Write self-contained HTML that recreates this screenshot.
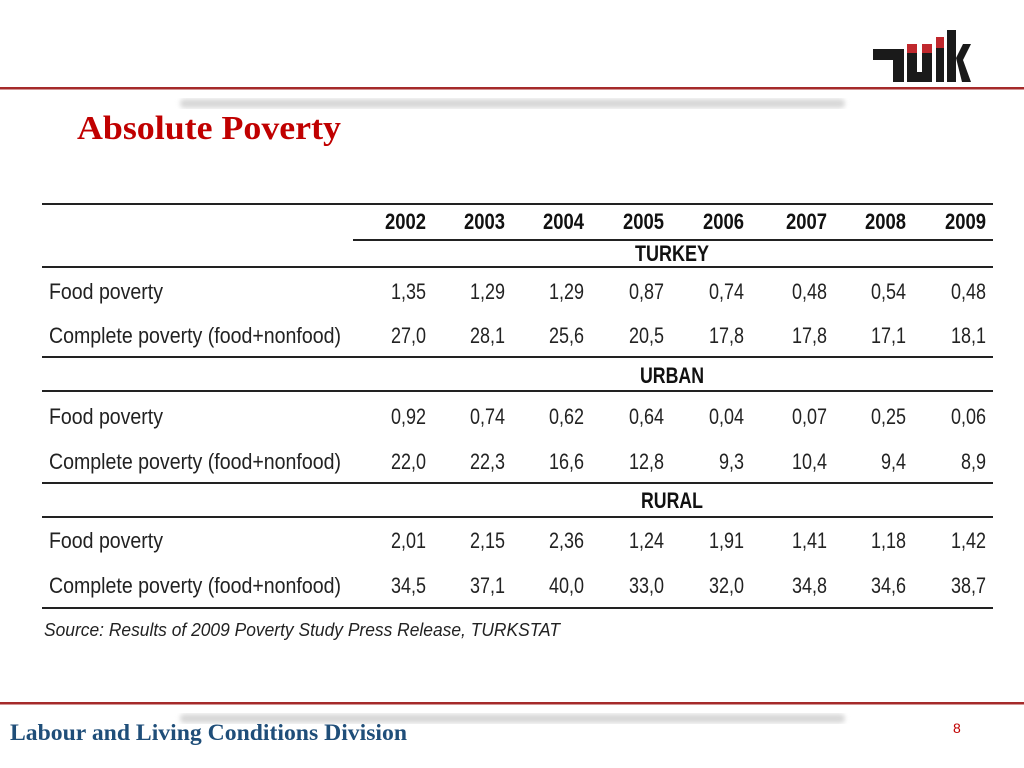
<!DOCTYPE html>
<html><head><meta charset="utf-8"><style>
html,body{margin:0;padding:0;background:#fff;width:1024px;height:768px;overflow:hidden}
svg{display:block}
.n{font-family:"Liberation Sans",sans-serif;font-size:22px;fill:#222}
.h{font-family:"Liberation Sans",sans-serif;font-size:22px;font-weight:bold;fill:#111}
</style></head><body>
<svg width="1024" height="768" viewBox="0 0 1024 768" xmlns="http://www.w3.org/2000/svg">
<defs><filter id="bl"><feGaussianBlur stdDeviation="2.5"/></filter></defs>
<rect x="0" y="87" width="1024" height="2.5" fill="#a52a2a"/>
<rect x="180" y="99" width="665" height="9" rx="4" fill="#d8d8d8" filter="url(#bl)"/>
<rect x="0" y="702" width="1024" height="2.5" fill="#a52a2a"/>
<rect x="180" y="714" width="665" height="9" rx="4" fill="#d8d8d8" filter="url(#bl)"/>
<g fill="#1a1a1a">
<rect x="873" y="49" width="30" height="11"/><rect x="893" y="49" width="11" height="33"/>
<rect x="907" y="44" width="10" height="38"/><rect x="922" y="44" width="10" height="38"/><rect x="907" y="72" width="25" height="10"/>
<rect x="936" y="37" width="8" height="45"/>
<rect x="947" y="30" width="9" height="52"/>
<polygon points="956,58 963,44 971,44 963,60 971,82 962,82"/>
</g>
<g fill="#c0282d"><rect x="907" y="44" width="10" height="9"/><rect x="922" y="44" width="10" height="9"/><rect x="936" y="37" width="8" height="11"/></g>
<text x="77" y="139" textLength="264" lengthAdjust="spacingAndGlyphs" style="font-family:'Liberation Serif',serif;font-weight:bold;font-size:34px;fill:#c00000">Absolute Poverty</text>
<text x="10" y="740" textLength="397" lengthAdjust="spacingAndGlyphs" style="font-family:'Liberation Serif',serif;font-weight:bold;font-size:23px;fill:#1f4e79">Labour and Living Conditions Division</text>
<text x="953" y="733" style="font-family:'Liberation Sans',sans-serif;font-size:14px;fill:#c00000">8</text>
<g fill="#222">
<rect x="42" y="203" width="951" height="2"/>
<rect x="353" y="239" width="640" height="2"/>
<rect x="42" y="266" width="951" height="2"/>
<rect x="42" y="356" width="951" height="2"/>
<rect x="42" y="390" width="951" height="2"/>
<rect x="42" y="482" width="951" height="2"/>
<rect x="42" y="516" width="951" height="2"/>
<rect x="42" y="607" width="951" height="2"/>
</g>
<g class="h" text-anchor="end">
<text x="426" y="229" textLength="41" lengthAdjust="spacingAndGlyphs">2002</text>
<text x="505" y="229" textLength="41" lengthAdjust="spacingAndGlyphs">2003</text>
<text x="584" y="229" textLength="41" lengthAdjust="spacingAndGlyphs">2004</text>
<text x="664" y="229" textLength="41" lengthAdjust="spacingAndGlyphs">2005</text>
<text x="744" y="229" textLength="41" lengthAdjust="spacingAndGlyphs">2006</text>
<text x="827" y="229" textLength="41" lengthAdjust="spacingAndGlyphs">2007</text>
<text x="906" y="229" textLength="41" lengthAdjust="spacingAndGlyphs">2008</text>
<text x="986" y="229" textLength="41" lengthAdjust="spacingAndGlyphs">2009</text>
</g>
<g class="h" text-anchor="middle">
<text x="672" y="261" textLength="74" lengthAdjust="spacingAndGlyphs">TURKEY</text>
<text x="672" y="383" textLength="64" lengthAdjust="spacingAndGlyphs">URBAN</text>
<text x="672" y="508" textLength="62" lengthAdjust="spacingAndGlyphs">RURAL</text>
</g>
<g class="n">
<text x="49" y="299" textLength="114" lengthAdjust="spacingAndGlyphs">Food poverty</text>
<text x="49" y="343" textLength="292" lengthAdjust="spacingAndGlyphs">Complete poverty (food+nonfood)</text>
<text x="49" y="424" textLength="114" lengthAdjust="spacingAndGlyphs">Food poverty</text>
<text x="49" y="469" textLength="292" lengthAdjust="spacingAndGlyphs">Complete poverty (food+nonfood)</text>
<text x="49" y="548" textLength="114" lengthAdjust="spacingAndGlyphs">Food poverty</text>
<text x="49" y="593" textLength="292" lengthAdjust="spacingAndGlyphs">Complete poverty (food+nonfood)</text>
</g>
<g class="n" text-anchor="end">
<text x="426" y="299" textLength="35" lengthAdjust="spacingAndGlyphs">1,35</text>
<text x="505" y="299" textLength="35" lengthAdjust="spacingAndGlyphs">1,29</text>
<text x="584" y="299" textLength="35" lengthAdjust="spacingAndGlyphs">1,29</text>
<text x="664" y="299" textLength="35" lengthAdjust="spacingAndGlyphs">0,87</text>
<text x="744" y="299" textLength="35" lengthAdjust="spacingAndGlyphs">0,74</text>
<text x="827" y="299" textLength="35" lengthAdjust="spacingAndGlyphs">0,48</text>
<text x="906" y="299" textLength="35" lengthAdjust="spacingAndGlyphs">0,54</text>
<text x="986" y="299" textLength="35" lengthAdjust="spacingAndGlyphs">0,48</text>
<text x="426" y="343" textLength="35" lengthAdjust="spacingAndGlyphs">27,0</text>
<text x="505" y="343" textLength="35" lengthAdjust="spacingAndGlyphs">28,1</text>
<text x="584" y="343" textLength="35" lengthAdjust="spacingAndGlyphs">25,6</text>
<text x="664" y="343" textLength="35" lengthAdjust="spacingAndGlyphs">20,5</text>
<text x="744" y="343" textLength="35" lengthAdjust="spacingAndGlyphs">17,8</text>
<text x="827" y="343" textLength="35" lengthAdjust="spacingAndGlyphs">17,8</text>
<text x="906" y="343" textLength="35" lengthAdjust="spacingAndGlyphs">17,1</text>
<text x="986" y="343" textLength="35" lengthAdjust="spacingAndGlyphs">18,1</text>
<text x="426" y="424" textLength="35" lengthAdjust="spacingAndGlyphs">0,92</text>
<text x="505" y="424" textLength="35" lengthAdjust="spacingAndGlyphs">0,74</text>
<text x="584" y="424" textLength="35" lengthAdjust="spacingAndGlyphs">0,62</text>
<text x="664" y="424" textLength="35" lengthAdjust="spacingAndGlyphs">0,64</text>
<text x="744" y="424" textLength="35" lengthAdjust="spacingAndGlyphs">0,04</text>
<text x="827" y="424" textLength="35" lengthAdjust="spacingAndGlyphs">0,07</text>
<text x="906" y="424" textLength="35" lengthAdjust="spacingAndGlyphs">0,25</text>
<text x="986" y="424" textLength="35" lengthAdjust="spacingAndGlyphs">0,06</text>
<text x="426" y="469" textLength="35" lengthAdjust="spacingAndGlyphs">22,0</text>
<text x="505" y="469" textLength="35" lengthAdjust="spacingAndGlyphs">22,3</text>
<text x="584" y="469" textLength="35" lengthAdjust="spacingAndGlyphs">16,6</text>
<text x="664" y="469" textLength="35" lengthAdjust="spacingAndGlyphs">12,8</text>
<text x="744" y="469" textLength="25" lengthAdjust="spacingAndGlyphs">9,3</text>
<text x="827" y="469" textLength="35" lengthAdjust="spacingAndGlyphs">10,4</text>
<text x="906" y="469" textLength="25" lengthAdjust="spacingAndGlyphs">9,4</text>
<text x="986" y="469" textLength="25" lengthAdjust="spacingAndGlyphs">8,9</text>
<text x="426" y="548" textLength="35" lengthAdjust="spacingAndGlyphs">2,01</text>
<text x="505" y="548" textLength="35" lengthAdjust="spacingAndGlyphs">2,15</text>
<text x="584" y="548" textLength="35" lengthAdjust="spacingAndGlyphs">2,36</text>
<text x="664" y="548" textLength="35" lengthAdjust="spacingAndGlyphs">1,24</text>
<text x="744" y="548" textLength="35" lengthAdjust="spacingAndGlyphs">1,91</text>
<text x="827" y="548" textLength="35" lengthAdjust="spacingAndGlyphs">1,41</text>
<text x="906" y="548" textLength="35" lengthAdjust="spacingAndGlyphs">1,18</text>
<text x="986" y="548" textLength="35" lengthAdjust="spacingAndGlyphs">1,42</text>
<text x="426" y="593" textLength="35" lengthAdjust="spacingAndGlyphs">34,5</text>
<text x="505" y="593" textLength="35" lengthAdjust="spacingAndGlyphs">37,1</text>
<text x="584" y="593" textLength="35" lengthAdjust="spacingAndGlyphs">40,0</text>
<text x="664" y="593" textLength="35" lengthAdjust="spacingAndGlyphs">33,0</text>
<text x="744" y="593" textLength="35" lengthAdjust="spacingAndGlyphs">32,0</text>
<text x="827" y="593" textLength="35" lengthAdjust="spacingAndGlyphs">34,8</text>
<text x="906" y="593" textLength="35" lengthAdjust="spacingAndGlyphs">34,6</text>
<text x="986" y="593" textLength="35" lengthAdjust="spacingAndGlyphs">38,7</text>
</g>
<text x="44" y="636" textLength="516" lengthAdjust="spacingAndGlyphs" style="font-family:'Liberation Sans',sans-serif;font-style:italic;font-size:18px;fill:#222">Source:  Results of 2009 Poverty Study Press Release, TURKSTAT</text>
</svg>
</body></html>
